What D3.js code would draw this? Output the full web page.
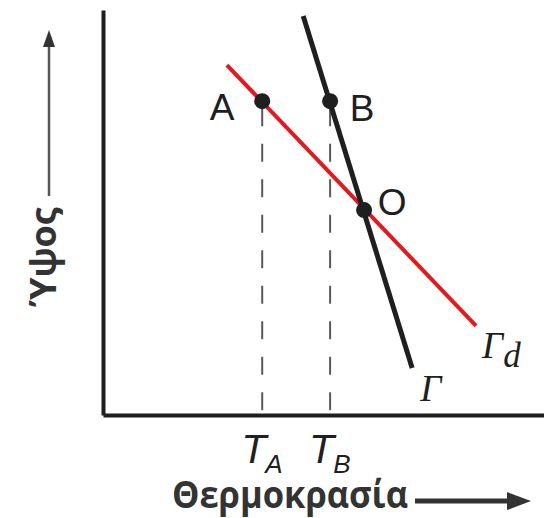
<!DOCTYPE html>
<html>
<head>
<meta charset="utf-8">
<script src="https://cdn.jsdelivr.net/npm/d3@7"></script>
<style>
  html, body { margin: 0; padding: 0; background: #fff; }
  svg { display: block; }
</style>
</head>
<body>
<svg id="chart" width="544" height="518"></svg>
<script>
// Temperature (t) and height (z) in arbitrary units, 0–100 on both axes.
const tDomain = [0, 100];
const zDomain = [0, 100];

// Dry adiabatic lapse line Γd (red) and environmental lapse line Γ (black).
const gammaDLine = [{ t: 28.1, z: 86.4 }, { t: 84.6, z: 22.0 }];
const gammaLine  = [{ t: 45.4, z: 98.5 }, { t: 70.1, z: 11.6 }];

// Labelled points: parcel A, environment B, intersection O.
const pointNames = ["A", "B", "O"];
const pointT     = [36.1, 51.5, 59.2];
const pointZ     = [77.5, 77.5, 50.6];

// Temperature markers on the horizontal axis.
const tickNames = ["A", "B"];
const tickT     = [36.1, 51.5];

const svg = d3.select("#chart");
const x = d3.scaleLinear().domain(tDomain).range([103, 544]);
const y = d3.scaleLinear().domain(zDomain).range([415, 10]);

const ink = "#1f1f1f";

// Axes: plain domain lines with no automatic ticks.
svg.append("g")
  .attr("transform", `translate(0,${y(0)})`)
  .call(d3.axisBottom(x).tickValues([]).tickSizeOuter(0))
  .call(g => g.select(".domain").attr("stroke", ink).attr("stroke-width", 4));
svg.append("g")
  .attr("transform", `translate(${x(0)},0)`)
  .call(d3.axisLeft(y).tickValues([]).tickSizeOuter(0))
  .call(g => g.select(".domain").attr("stroke", ink).attr("stroke-width", 4));

// Dashed drop lines from A and B down to the temperature axis.
svg.append("g").selectAll("line")
  .data(tickT)
  .join("line")
  .attr("x1", d => x(d)).attr("x2", d => x(d))
  .attr("y1", y(pointZ[0])).attr("y2", y(0))
  .attr("stroke", "#5a5a5a")
  .attr("stroke-width", 2)
  .attr("stroke-dasharray", "18,17.5")
  .attr("stroke-dashoffset", 28.5);

const line = d3.line().x(d => x(d.t)).y(d => y(d.z));

svg.append("path")
  .datum(gammaDLine)
  .attr("d", line)
  .attr("fill", "none")
  .attr("stroke", "#e3191f")
  .attr("stroke-width", 4);

svg.append("path")
  .datum(gammaLine)
  .attr("d", line)
  .attr("fill", "none")
  .attr("stroke", ink)
  .attr("stroke-width", 5);

// Points
svg.append("g").selectAll("circle")
  .data(pointT)
  .join("circle")
  .attr("cx", d => x(d))
  .attr("cy", (d, i) => y(pointZ[i]))
  .attr("r", 8)
  .attr("fill", ink);

// Point labels
const labelDx = [-40, 32, 28];
const labelDy = [19, 20, 5];
svg.append("g").selectAll("text")
  .data(pointNames)
  .join("text")
  .attr("x", (d, i) => x(pointT[i]) + labelDx[i])
  .attr("y", (d, i) => y(pointZ[i]) + labelDy[i])
  .attr("text-anchor", "middle")
  .attr("font-family", "Liberation Sans, Arial, sans-serif")
  .attr("font-size", 37)
  .attr("fill", ink)
  .text(d => d);

// Line labels Γ and Γd
const serif = "Liberation Serif, Times New Roman, serif";
const gd = svg.append("text")
  .attr("x", x(gammaDLine[1].t) + 6)
  .attr("y", y(gammaDLine[1].z) + 32)
  .attr("font-family", serif)
  .attr("font-style", "italic")
  .attr("font-size", 37)
  .attr("fill", ink);
gd.append("tspan").text("Γ");
gd.append("tspan").attr("dy", 9).attr("font-size", 35).text("d");

svg.append("text")
  .attr("x", x(gammaLine[1].t) + 8)
  .attr("y", y(gammaLine[1].z) + 33)
  .attr("font-family", serif)
  .attr("font-style", "italic")
  .attr("font-size", 37)
  .attr("fill", ink)
  .text("Γ");

// Temperature marker labels T_A, T_B
svg.append("g").selectAll("text")
  .data(tickNames)
  .join("text")
  .attr("x", (d, i) => x(tickT[i]) - 21)
  .attr("y", 463)
  .attr("font-family", "Liberation Sans, Arial, sans-serif")
  .attr("font-style", "italic")
  .attr("font-size", 41)
  .attr("fill", ink)
  .each(function (d) {
    const t = d3.select(this);
    t.append("tspan").text("T");
    t.append("tspan").attr("dx", -1).attr("dy", 10).attr("font-size", 26).text(d);
  });

// Axis titles with arrows
const titleColor = "#333";
svg.append("text")
  .attr("x", 172)
  .attr("y", 508)
  .attr("font-family", "Open Sans, Noto Sans, sans-serif")
  .attr("font-weight", "bold")
  .attr("font-size", 37)
  .attr("fill", titleColor)
  .attr("textLength", 236)
  .attr("lengthAdjust", "spacingAndGlyphs")
  .text("Θερμοκρασία");

svg.append("line")
  .attr("x1", 415).attr("x2", 512)
  .attr("y1", 501).attr("y2", 501)
  .attr("stroke", titleColor)
  .attr("stroke-width", 5);
svg.append("path")
  .attr("d", d3.line()([[507, 492], [531, 501], [507, 510]]) + "Z")
  .attr("fill", titleColor);

svg.append("text")
  .attr("transform", "translate(56,257) rotate(-90)")
  .attr("text-anchor", "middle")
  .attr("font-family", "Open Sans, Noto Sans, sans-serif")
  .attr("font-weight", "bold")
  .attr("font-size", 36)
  .attr("fill", titleColor)
  .text("Ύψος");

svg.append("line")
  .attr("x1", 49).attr("x2", 49)
  .attr("y1", 196).attr("y2", 44)
  .attr("stroke", "#555")
  .attr("stroke-width", 2.5);
svg.append("path")
  .attr("d", d3.line()([[43, 47], [49, 30], [55, 47]]) + "Z")
  .attr("fill", "#333");
</script>
</body>
</html>
